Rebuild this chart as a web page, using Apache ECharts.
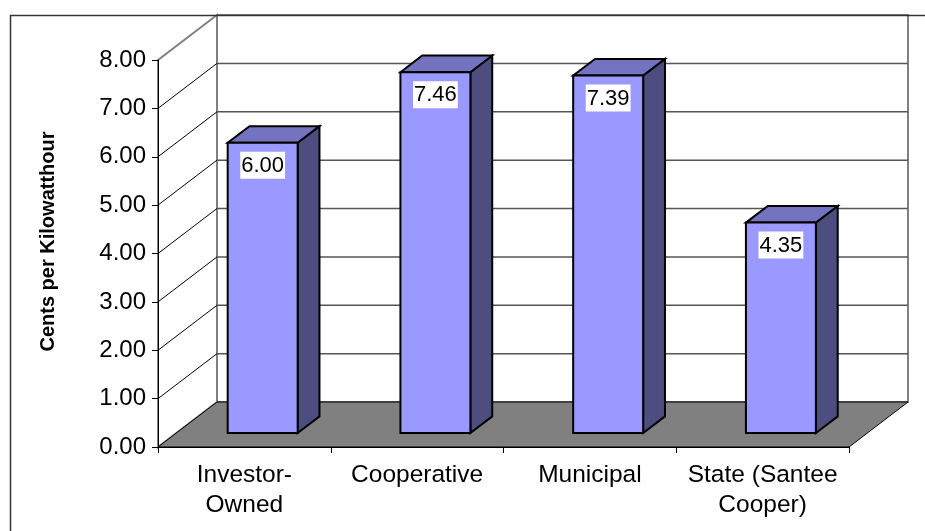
<!DOCTYPE html>
<html>
<head>
<meta charset="utf-8">
<script src="https://cdn.jsdelivr.net/npm/echarts@6/dist/echarts.min.js"></script>
<style>
html,body{margin:0;padding:0;background:#fff;}
#main{width:925px;height:531px;}
</style>
</head>
<body>
<div id="main"></div>
<script>
const categories = ['Investor-\nOwned', 'Cooperative', 'Municipal', 'State (Santee\nCooper)'];
const values = [6.00, 7.46, 7.39, 4.35];
const yTicks = [0, 1, 2, 3, 4, 5, 6, 7, 8];
const yAxisTitle = 'Cents per Kilowatthour';

const FONT = 'Liberation Sans, Arial, sans-serif';
const DEPTH = [59, -45];
const BAR_FRONT = 0.31, BAR_BACK = 0.68, BAR_W = 0.405;

const chart = echarts.init(document.getElementById('main'), null, {renderer: 'canvas'});

function wallsRender(params, api) {
  const cs = params.coordSys;
  const x0 = cs.x, x1 = cs.x + cs.width;
  const yv = v => api.coord([0, v])[1];
  const dx = DEPTH[0], dy = DEPTH[1];
  const yMin = yTicks[0], yMax = yTicks[yTicks.length - 1];
  const children = [];
  children.push({type: 'rect', shape: {x: x0 + dx, y: yv(yMax) + dy, width: x1 - x0, height: yv(yMin) - yv(yMax)},
    style: {fill: '#ffffff', stroke: '#808080', lineWidth: 2}});
  children.push({type: 'polygon', shape: {points: [[x0, yv(yMax)], [x0 + dx, yv(yMax) + dy], [x0 + dx, yv(yMin) + dy], [x0, yv(yMin)]]},
    style: {fill: '#ffffff', stroke: '#808080', lineWidth: 2}});
  yTicks.forEach(v => {
    if (v === yMin || v === yMax) return;
    const y = yv(v);
    children.push({type: 'line', shape: {x1: x0 + dx, y1: y + dy, x2: x1 + dx, y2: y + dy},
      style: {stroke: '#555555', lineWidth: 1.5}});
    children.push({type: 'line', shape: {x1: x0, y1: y, x2: x0 + dx, y2: y + dy},
      style: {stroke: '#000000', lineWidth: 1}});
  });
  children.push({type: 'polygon', shape: {points: [[x0, yv(yMin)], [x1, yv(yMin)], [x1 + dx, yv(yMin) + dy], [x0 + dx, yv(yMin) + dy]]},
    style: {fill: '#808080', stroke: '#000000', lineWidth: 1}});
  return {type: 'group', children: children};
}

function barRender(params, api) {
  const i = api.value(0), v = api.value(1);
  const top = api.coord([i, v]);
  const bot = api.coord([i, 0]);
  const w = api.size([1, 0])[0] * BAR_W;
  const fx = DEPTH[0] * BAR_FRONT, fy = DEPTH[1] * BAR_FRONT;
  const bx = DEPTH[0] * BAR_BACK, by = DEPTH[1] * BAR_BACK;
  const L = top[0] - w / 2 + fx, R = top[0] + w / 2 + fx;
  const T = top[1] + fy, B = bot[1] + fy;
  const ddx = bx - fx, ddy = by - fy;
  const stroke = {stroke: '#000000', lineWidth: 2, lineJoin: 'miter'};
  return {type: 'group', children: [
    {type: 'polygon', shape: {points: [[R, T], [R + ddx, T + ddy], [R + ddx, B + ddy], [R, B]]},
      style: Object.assign({fill: '#4D4D80'}, stroke)},
    {type: 'polygon', shape: {points: [[L, T], [L + ddx, T + ddy], [R + ddx, T + ddy], [R, T]]},
      style: Object.assign({fill: '#7373C0'}, stroke)},
    {type: 'rect', shape: {x: L, y: T, width: R - L, height: B - T},
      style: Object.assign({fill: '#9999FF'}, stroke)},
    {type: 'text', x: (L + R) / 2, y: T + 9,
      style: {text: v.toFixed(2), font: '22px ' + FONT, fill: '#000', align: 'center', verticalAlign: 'top',
        backgroundColor: '#ffffff', padding: [3, 1, 2, 1]}}
  ]};
}

chart.setOption({
  backgroundColor: '#ffffff',
  animation: false,
  graphic: [{type: 'rect', left: 8, top: 13, shape: {x: 0, y: 0, width: 1000, height: 600},
    style: {fill: 'none', stroke: '#333333', lineWidth: 1.5}, z: 100, silent: true}],
  grid: {left: 158, right: 76, top: 60, bottom: 84},
  xAxis: {
    type: 'category', data: categories, boundaryGap: true, z: 10,
    axisLine: {show: true, lineStyle: {color: '#000', width: 1}},
    axisTick: {show: true, length: 6, interval: 0, alignWithLabel: false, lineStyle: {color: '#000'}},
    axisLabel: {interval: 0, margin: 13, color: '#000', fontSize: 24.5, lineHeight: 30, fontFamily: FONT}
  },
  yAxis: {
    type: 'value', min: 0, max: 8, interval: 1, z: 10,
    name: yAxisTitle, nameLocation: 'middle', nameGap: 100, nameRotate: 90,
    nameTextStyle: {fontSize: 20, fontWeight: 'bold', color: '#000', fontFamily: FONT, padding: [0, 0, 0, 24]},
    axisLine: {show: true, lineStyle: {color: '#000', width: 1}},
    axisTick: {show: true, length: 6, lineStyle: {color: '#000'}},
    splitLine: {show: false},
    axisLabel: {margin: 12, color: '#000', fontSize: 24, fontFamily: FONT, formatter: v => v.toFixed(2)}
  },
  series: [
    {type: 'custom', z: 1, renderItem: wallsRender, data: [[0, 0]], silent: true},
    {type: 'custom', z: 2, renderItem: barRender, data: values.map((v, i) => [i, v]), silent: true}
  ]
});
</script>
</body>
</html>
